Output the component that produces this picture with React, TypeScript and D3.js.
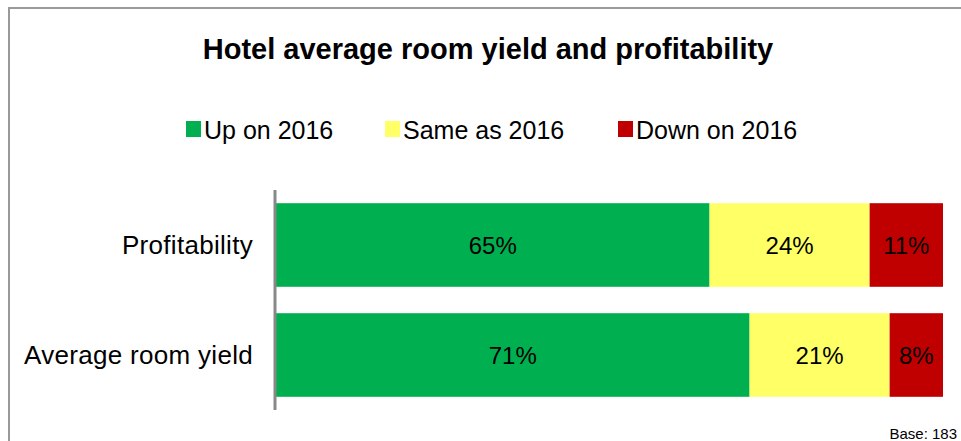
import React from "react";
import * as d3 from "d3";

const categories = ["Profitability", "Average room yield"];
const seriesNames = ["Up on 2016", "Same as 2016", "Down on 2016"];
const upValues = [65, 71];
const sameValues = [24, 21];
const downValues = [11, 8];
const colors = ["#00B050", "#FFFF66", "#C00000"];
const title = "Hotel average room yield and profitability";
const baseNote = "Base: 183";

const W = 961;
const H = 441;
const FONT = "'Liberation Sans', Arial, sans-serif";

export default function App() {
  const x = d3.scaleLinear().domain([0, 100]).range([276, 943]);
  const y = d3.scaleBand().domain(categories).range([190, 410]).paddingInner(0.24).paddingOuter(0.12);

  const rows = categories.map((c, i) => ({
    cat: c,
    up: upValues[i],
    same: sameValues[i],
    down: downValues[i],
  }));
  const stack = d3.stack<any>().keys(["up", "same", "down"])(rows);

  const legendItems = [
    { x: 186, label: seriesNames[0], color: colors[0] },
    { x: 385, label: seriesNames[1], color: colors[1] },
    { x: 618, label: seriesNames[2], color: colors[2] },
  ];

  return (
    <svg width={W} height={H} style={{ position: "absolute", left: 0, top: 0 }} fontFamily={FONT}>
      <rect x={0} y={0} width={W} height={H} fill="#fff" />
      <line x1={8} y1={8} x2={W} y2={8} stroke="#999" strokeWidth={2} />
      <line x1={9} y1={8} x2={9} y2={H} stroke="#999" strokeWidth={2} />
      <text x={488} y={59} textAnchor="middle" fontSize={29} fontWeight="bold" fill="#000">
        {title}
      </text>
      {legendItems.map((l) => (
        <g key={l.label}>
          <rect x={l.x} y={121} width={15} height={16} fill={l.color} />
          <text x={l.x + 18} y={139} fontSize={25} fill="#000">
            {l.label}
          </text>
        </g>
      ))}
      {stack.map((s, si) => (
        <g key={s.key} fill={colors[si]}>
          {s.map((d: any) => {
            const x0 = x(d[0]);
            const x1 = x(d[1]);
            const yy = y(d.data.cat)!;
            return (
              <g key={d.data.cat}>
                <rect x={x0} y={yy} width={x1 - x0} height={y.bandwidth()} />
                <text
                  x={(x0 + x1) / 2}
                  y={yy + y.bandwidth() / 2 + 9}
                  textAnchor="middle"
                  fontSize={24}
                  fill="#000"
                >
                  {d.data[s.key]}%
                </text>
              </g>
            );
          })}
        </g>
      ))}
      <line x1={275} y1={190} x2={275} y2={410} stroke="#888" strokeWidth={3} />
      {categories.map((c) => (
        <text
          key={c}
          x={253}
          y={y(c)! + y.bandwidth() / 2 + 9}
          textAnchor="end"
          fontSize={26}
          letterSpacing={0.3}
          fill="#000"
        >
          {c}
        </text>
      ))}
      <text x={957} y={439} textAnchor="end" fontSize={15} fill="#000">
        {baseNote}
      </text>
    </svg>
  );
}
